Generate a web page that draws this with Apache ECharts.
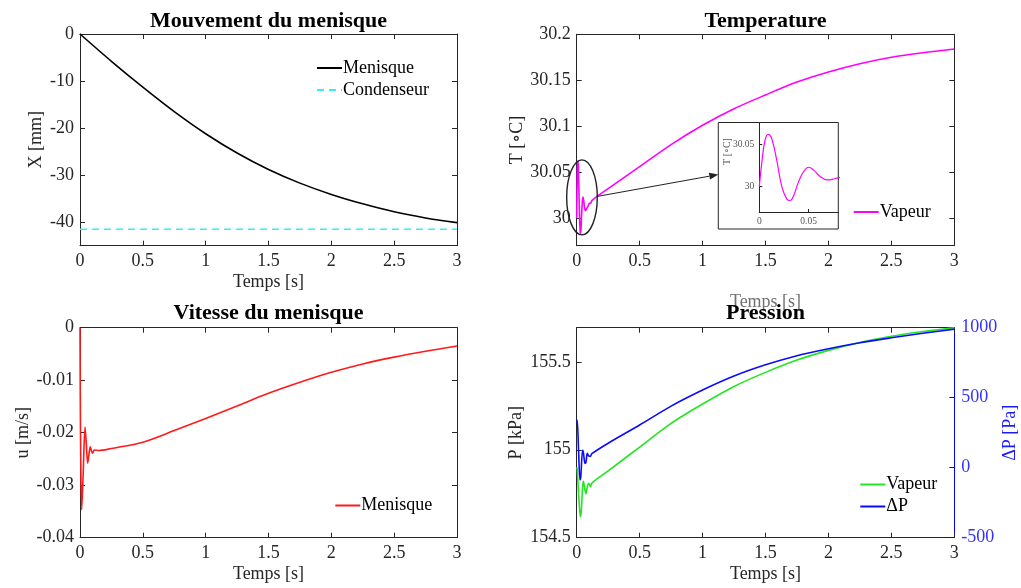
<!DOCTYPE html>
<html>
<head>
<meta charset="utf-8">
<script src="https://cdn.jsdelivr.net/npm/echarts@6/dist/echarts.min.js"></script>
<style>
  html, body { margin: 0; padding: 0; background: #fff; }
  #chart { width: 1021px; height: 588px; }
</style>
</head>
<body>
<div id="chart"></div>
<script>
// axe des temps commun
const timeTicks = [0, 0.5, 1, 1.5, 2, 2.5, 3];

// Mouvement du menisque
const tPos = [0, 0.25, 0.5, 0.75, 1, 1.25, 1.5, 1.75, 2, 2.25, 2.5, 2.75, 3];
const xMenisque = [0, -5.8, -11.3, -16.5, -21.2, -25.3, -28.8, -31.7, -34.1, -36.1, -37.8, -39.1, -40.1];
const xCondenseur = -41.5;
const posTicks = [-40, -30, -20, -10, 0];

// Temperature
const tTemp = [0, 0.0024, 0.0058, 0.0092, 0.0126, 0.0177, 0.0228, 0.028, 0.0313, 0.0347, 0.0398, 0.0449,
  0.05, 0.0551, 0.0619, 0.0688, 0.0739, 0.0796, 0.09, 0.1, 0.11, 0.12, 0.16, 0.25, 0.5, 0.75, 1,
  1.25, 1.5, 1.75, 2, 2.25, 2.5, 2.75, 3];
const tempVapeur = [30.0, 30.027, 30.055, 30.062, 30.057, 30.031, 30.0, 29.985, 29.9836, 29.989, 30.006, 30.018,
  30.023, 30.0196, 30.0117, 30.008, 30.0087, 30.0105, 30.013, 30.016, 30.016, 30.019, 30.0235, 30.032, 30.056, 30.08, 30.101,
  30.119, 30.134, 30.148, 30.159, 30.168, 30.175, 30.180, 30.184];
const tempTicks = [30, 30.05, 30.1, 30.15, 30.2];
const insetTimeTicks = [0, 0.05];
const insetTempTicks = [30, 30.05];

// Vitesse du menisque
const tVit = [0, 0.004, 0.0135, 0.025, 0.04, 0.05, 0.061, 0.072, 0.082, 0.092, 0.1, 0.114, 0.15,
  0.25, 0.5, 0.75, 1, 1.25, 1.5, 1.75, 2, 2.25, 2.5, 2.75, 3];
const uMenisque = [0, -0.02, -0.0347, -0.028, -0.0189, -0.022, -0.0258, -0.024, -0.0227, -0.0235, -0.0239, -0.0233, -0.0234,
  -0.0230, -0.0218, -0.0196, -0.0173, -0.0149, -0.0125, -0.0104, -0.0085, -0.0069, -0.0056, -0.0045, -0.0035];
const vitTicks = [-0.04, -0.03, -0.02, -0.01, 0];

// Pression
const tPres = [0, 0.004, 0.015, 0.026, 0.032, 0.047, 0.053, 0.066, 0.074, 0.084, 0.095, 0.11, 0.12,
  0.25, 0.5, 0.75, 1, 1.25, 1.5, 1.75, 2, 2.25, 2.5, 2.75, 3];
const pVapeur = [154.90, 154.89, 154.75, 154.64, 154.62, 154.79, 154.82, 154.77, 154.75, 154.79, 154.81, 154.79, 154.81,
  154.88, 155.015, 155.15, 155.26, 155.36, 155.44, 155.51, 155.565, 155.61, 155.645, 155.672, 155.694];
const deltaP = [330, 340, 120, -88, -70, 126, 110, 31, 40, 103, 85, 82, 100,
  175, 305, 440, 555, 655, 735, 800, 850, 893, 928, 960, 990];
const presTicks = [154.5, 155, 155.5];
const dpTicks = [-500, 0, 500, 1000];

const legendText = {
  pos_men: 'Menisque', pos_cond: 'Condenseur', temp_vap: 'Vapeur',
  u_men: 'Menisque', p_vap: 'Vapeur', dp: 'ΔP'
};

const FONT = "'Liberation Serif', 'DejaVu Serif', serif";
const AX = '#262626';
const zip = (a, b) => a.map((v, i) => [v, b[i]]);
const plain = v => String(v);

// positions des cadres (px)
const G = [
  { left: 80, top: 34, width: 377, height: 211.7 },
  { left: 576.7, top: 34.3, width: 377.6, height: 211.4 },
  { left: 80, top: 327.7, width: 377, height: 210 },
  { left: 576.7, top: 327.7, width: 377.6, height: 210 },
  { left: 759.3, top: 122.5, width: 79, height: 89.5 }
];

function xAx(grid, top, extra) {
  return Object.assign({
    type: 'value', gridIndex: grid, position: top ? 'top' : 'bottom',
    min: 0, max: 3, interval: 0.5,
    axisLine: { show: true, onZero: false, lineStyle: { color: AX, width: 1 } },
    axisTick: { show: true, inside: true, length: 5, customValues: timeTicks, lineStyle: { color: AX } },
    axisLabel: { show: !top, customValues: timeTicks, formatter: plain, color: AX, fontFamily: FONT, fontSize: 18, margin: 7 },
    splitLine: { show: false },
    name: top ? '' : 'Temps [s]', nameLocation: 'middle', nameGap: 28,
    nameTextStyle: { color: AX, fontFamily: FONT, fontSize: 18 }
  }, extra || {});
}

function yAx(grid, right, min, max, ticks, extra) {
  return Object.assign({
    type: 'value', gridIndex: grid, position: right ? 'right' : 'left',
    min: min, max: max,
    axisLine: { show: true, onZero: false, lineStyle: { color: AX, width: 1 } },
    axisTick: { show: true, inside: true, length: 5, customValues: ticks, lineStyle: { color: AX } },
    axisLabel: { show: !right, customValues: ticks, formatter: plain, color: AX, fontFamily: FONT, fontSize: 18, margin: 6 },
    splitLine: { show: false },
    nameLocation: 'middle', nameRotate: 90,
    nameTextStyle: { color: AX, fontFamily: FONT, fontSize: 18 }
  }, extra || {});
}

const titleStyle = { color: '#000', fontFamily: FONT, fontSize: 22, fontWeight: 'bold' };
function title(text, cx, top) {
  return { text: text, left: cx, top: top, textAlign: 'center', padding: 0, textStyle: titleStyle };
}

function legend(names, left, top) {
  return {
    data: names, orient: 'vertical', left: left, top: top, padding: 0,
    itemWidth: 25, itemHeight: 14, itemGap: 4, selectedMode: false,
    itemStyle: { opacity: 0 },
    formatter: n => legendText[n],
    textStyle: { color: '#000', fontFamily: FONT, fontSize: 18, padding: [0, 0, 0, -4] }
  };
}

const chart = echarts.init(document.getElementById('chart'));

const option = {
  animation: false,
  backgroundColor: '#fff',
  title: [
    title('Mouvement du menisque', 268.5, 10),
    title('Temperature', 765.5, 10),
    title('Vitesse du menisque', 268.5, 302),
    title('Pression', 765.5, 302)
  ],
  legend: [
    legend(['pos_men', 'pos_cond'], 316, 59),
    legend(['temp_vap'], 852.7, 203),
    legend(['u_men'], 334.3, 496.5),
    legend(['p_vap', 'dp'], 859.3, 475.5)
  ],
  grid: G.map(g => Object.assign({ outerBoundsMode: 'none' }, g)),
  xAxis: [
    xAx(0, false), xAx(0, true),
    xAx(1, false, { nameGap: 48, nameTextStyle: { color: '#707070', fontFamily: FONT, fontSize: 18 } }), xAx(1, true),
    xAx(2, false), xAx(2, true),
    xAx(3, false), xAx(3, true),
    {
      type: 'value', gridIndex: 4, min: 0, max: 0.08, z: 5,
      axisLine: { show: true, onZero: false, lineStyle: { color: AX, width: 1 } },
      axisTick: { show: true, inside: true, length: 3, customValues: insetTimeTicks, lineStyle: { color: AX } },
      axisLabel: { customValues: insetTimeTicks, formatter: plain, color: '#555', fontFamily: FONT, fontSize: 9.5, margin: 4 },
      splitLine: { show: false }
    }
  ],
  yAxis: [
    yAx(0, false, -45, 0, posTicks, { name: 'X [mm]', nameGap: 35 }),
    yAx(0, true, -45, 0, posTicks),
    yAx(1, false, 29.97, 30.2, tempTicks, { name: 'T [∘C]', nameGap: 50 }),
    yAx(1, true, 29.97, 30.2, tempTicks),
    yAx(2, false, -0.04, 0, vitTicks, { name: 'u [m/s]', nameGap: 48 }),
    yAx(2, true, -0.04, 0, vitTicks),
    yAx(3, false, 154.5, 155.694, presTicks, { name: 'P [kPa]', nameGap: 51 }),
    yAx(3, true, -500, 1000, dpTicks, {
      name: 'ΔP [Pa]', nameGap: 46,
      nameTextStyle: { color: '#1a1aff', fontFamily: FONT, fontSize: 18 },
      axisLine: { show: true, onZero: false, lineStyle: { color: '#0000ff', width: 1 } },
      axisTick: { show: true, inside: true, length: 5, customValues: dpTicks, lineStyle: { color: '#0000ff' } },
      axisLabel: { show: true, customValues: dpTicks, formatter: plain, color: '#3333ff', fontFamily: FONT, fontSize: 18, margin: 7 }
    }),
    {
      type: 'value', gridIndex: 4, min: 29.97, max: 30.076, z: 5,
      axisLine: { show: true, onZero: false, lineStyle: { color: AX, width: 1 } },
      axisTick: { show: true, inside: true, length: 3, customValues: insetTempTicks, lineStyle: { color: AX } },
      axisLabel: { customValues: insetTempTicks, formatter: plain, color: '#555', fontFamily: FONT, fontSize: 9.5, margin: 5 },
      splitLine: { show: false }
    }
  ],
  series: [
    { name: 'pos_men', type: 'line', xAxisIndex: 0, yAxisIndex: 0, data: zip(tPos, xMenisque),
      smooth: 0.3, symbol: 'none', lineStyle: { color: '#000', width: 1.6 }, itemStyle: { color: '#000' } },
    { name: 'pos_cond', type: 'line', xAxisIndex: 0, yAxisIndex: 0, data: [[0, xCondenseur], [3, xCondenseur]],
      symbol: 'none', lineStyle: { color: '#2ef2f7', width: 1.6, type: [7, 5] }, itemStyle: { color: '#2ef2f7' } },
    { name: 'temp_vap', type: 'line', xAxisIndex: 2, yAxisIndex: 2, data: zip(tTemp, tempVapeur),
      smooth: 0.3, symbol: 'none', lineStyle: { color: '#ff00ff', width: 1.6 }, itemStyle: { color: '#ff00ff' } },
    { name: 'inset', type: 'line', xAxisIndex: 8, yAxisIndex: 8, data: zip(tTemp, tempVapeur), z: 6,
      smooth: 0.4, symbol: 'none', lineStyle: { color: '#ff00ff', width: 1.2 } },
    { name: 'u_men', type: 'line', xAxisIndex: 4, yAxisIndex: 4, data: zip(tVit, uMenisque),
      smooth: 0.3, symbol: 'none', lineStyle: { color: '#ff1a1a', width: 1.6 }, itemStyle: { color: '#ff1a1a' } },
    { name: 'p_vap', type: 'line', xAxisIndex: 6, yAxisIndex: 6, data: zip(tPres, pVapeur),
      smooth: 0.3, symbol: 'none', lineStyle: { color: '#22e622', width: 1.6 }, itemStyle: { color: '#22e622' } },
    { name: 'dp', type: 'line', xAxisIndex: 6, yAxisIndex: 7, data: zip(tPres, deltaP),
      smooth: 0.3, symbol: 'none', lineStyle: { color: '#0a0aff', width: 1.6 }, itemStyle: { color: '#0a0aff' } }
  ]
};

chart.setOption(option);

// annotation du zoom : ellipse, fleche, cadre de l'encart
const ell = { t: 0.042, v: 30.0226, dt: 0.1216, dv: 0.0408 };
const toPx = p => chart.convertToPixel({ xAxisIndex: 2, yAxisIndex: 2 }, p);
const c = toPx([ell.t, ell.v]);
const e1 = toPx([ell.t + ell.dt, ell.v - ell.dv]);
const rx = e1[0] - c[0], ry = e1[1] - c[1];

const ins = G[4];
const box = { x: ins.left - 41, y: ins.top, w: 41 + ins.width, h: ins.height + 17 };
const a0 = toPx([0.159, 30.0235]);
const a1 = [box.x, toPx([1.125, 30.0474])[1]];
const ang = Math.atan2(a1[1] - a0[1], a1[0] - a0[0]);
const hl = 9, hw = 3.5;
const base = [a1[0] - hl * Math.cos(ang), a1[1] - hl * Math.sin(ang)];
const head = [
  a1,
  [base[0] + hw * Math.sin(ang), base[1] - hw * Math.cos(ang)],
  [base[0] - hw * Math.sin(ang), base[1] + hw * Math.cos(ang)]
];

chart.setOption({
  graphic: [
    { type: 'rect', z: 1, shape: { x: box.x, y: box.y, width: box.w, height: box.h },
      style: { fill: '#fff', stroke: AX, lineWidth: 1 } },
    { type: 'text', z: 7, x: ins.left - 32, y: ins.top + 29, rotation: Math.PI / 2,
      style: { text: 'T [∘C]', fill: '#555', font: "10px 'Liberation Serif', 'DejaVu Serif', serif",
        textAlign: 'center', textVerticalAlign: 'middle' } },
    { type: 'ellipse', z: 10, shape: { cx: c[0], cy: c[1], rx: rx, ry: ry },
      style: { fill: 'none', stroke: '#222', lineWidth: 1.4 } },
    { type: 'line', z: 10, shape: { x1: a0[0], y1: a0[1], x2: base[0], y2: base[1] },
      style: { stroke: '#222', lineWidth: 1 } },
    { type: 'polygon', z: 10, shape: { points: head }, style: { fill: '#222' } }
  ]
});
</script>
</body>
</html>
